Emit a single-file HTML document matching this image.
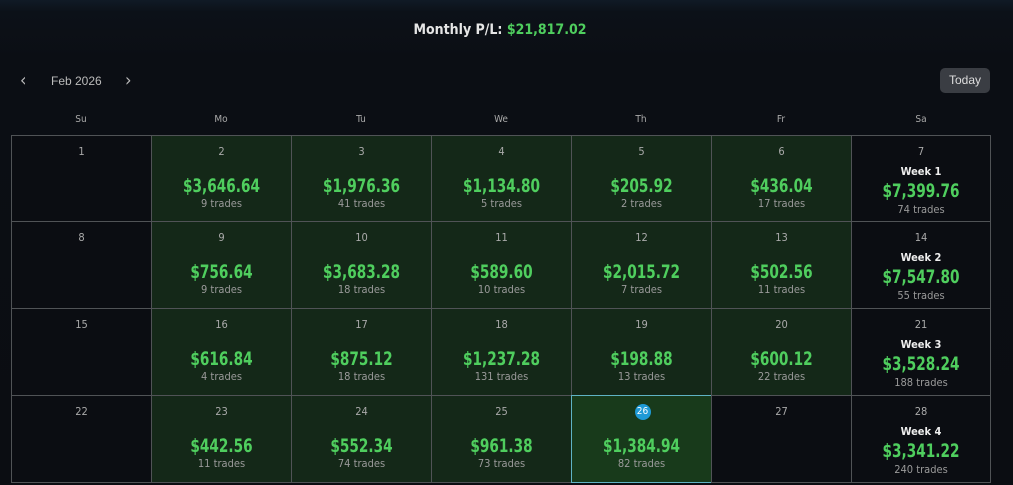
<!DOCTYPE html>
<html><head><meta charset="utf-8"><style>
body{margin:0;width:1013px;height:485px;overflow:hidden;background:linear-gradient(180deg,#101a26 0px,#0c1118 12px,#0b0e14 60px,#0b0d12 485px);font-family:"DejaVu Sans Condensed","Liberation Sans Narrow","Liberation Sans",sans-serif;color:#bbb;position:relative}
.t{position:absolute;top:22px;left:0;width:1000px;text-align:center;font-weight:bold;font-size:14px;color:#e6e6e6}
.t span{color:#4fce5e}
.nav{position:absolute;top:74px;font-size:12px;color:#bbb}
.today{position:absolute;left:940px;top:68px;width:50px;height:25px;background:#3a3d43;border-radius:5px;color:#ddd;font-size:12px;text-align:center;line-height:25px;font-family:"Liberation Sans",sans-serif}
.dh{position:absolute;top:114px;width:140px;text-align:center;font-size:10px;color:#aaa}
.c{position:absolute;box-sizing:border-box;border:1px solid #505356;text-align:center;background:#0b0d12}
.g{background:#142818}
.d{position:absolute;left:0;right:0;top:9px;font-size:11px;color:#aaa}
.a{position:absolute;left:0;right:0;font-size:19px;font-weight:bold;color:#4fce5e;transform:scaleX(0.8)}
.n{position:absolute;left:0;right:0;font-size:11px;color:#9a9a9a}
.w{position:absolute;left:0;right:0;top:29px;font-size:11px;font-weight:bold;color:#eee}
</style></head><body>
<div class="t">Monthly P/L: <span>$21,817.02</span></div>
<div class="nav" style="left:20px;font-size:18px;top:70px">‹</div>
<div class="nav" style="left:51px;font-family:'Liberation Sans',sans-serif">Feb 2026</div>
<div class="nav" style="left:125px;font-size:18px;top:70px">›</div>
<div class="today">Today</div>
<div id="g"></div>
<script>
const days=["Su","Mo","Tu","We","Th","Fr","Sa"];
let h="";
const X=[11,151,291,431,571,711,851,990],Y=[135,221,308,395,482];
days.forEach((d,i)=>h+=`<div class="dh" style="left:${X[i]}px">${d}</div>`);
const data=[
[null,["3,646.64",9],["1,976.36",41],["1,134.80",5],["205.92",2],["436.04",17],["7,399.76",74]],
[null,["756.64",9],["3,683.28",18],["589.60",10],["2,015.72",7],["502.56",11],["7,547.80",55]],
[null,["616.84",4],["875.12",18],["1,237.28",131],["198.88",13],["600.12",22],["3,528.24",188]],
[null,["442.56",11],["552.34",74],["961.38",73],["1,384.94",82],null,["3,341.22",240]]];
for(let r=0;r<4;r++)for(let c=0;c<7;c++){
 const day=r*7+c+1,v=data[r][c],today=day==26;
 const w=X[c+1]-X[c]+1,hh=Y[r+1]-Y[r]+1;
 let cls="c"+(v&&c<6?" g":"");
 let st=`left:${X[c]}px;top:${Y[r]}px;width:${w}px;height:${hh}px;`;
 if(today)st+="border:1px solid #5fb3c4;background:#183a1b;";
 let inner=today?`<div style="position:absolute;left:${w/2-8}px;top:8px;width:16px;height:16px;border-radius:8px;background:#1f9ad6;color:#fff;font-size:10px;line-height:16px">26</div>`:`<div class="d">${day}</div>`;
 if(v){
  if(c==6){inner+=`<div class="w">Week ${r+1}</div><div class="a" style="top:44px">$${v[0]}</div><div class="n" style="top:67px">${v[1]} trades</div>`;}
  else inner+=`<div class="a" style="top:39px">$${v[0]}</div><div class="n" style="top:61px">${v[1]} trades</div>`;
 }
 h+=`<div class="${cls}" style="${st}">${inner}</div>`;
}
document.getElementById("g").innerHTML=h;
</script>
</body></html>
